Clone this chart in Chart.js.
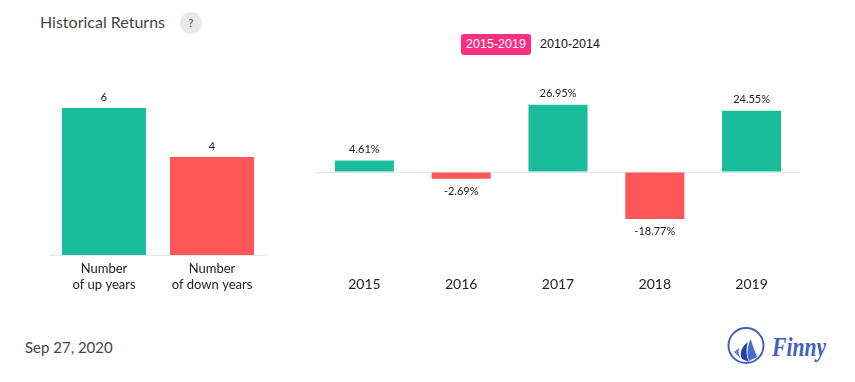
<!DOCTYPE html>
<html>
<head>
<meta charset="utf-8">
<script src="https://cdn.jsdelivr.net/npm/chart.js@4"></script>
<style>
    html, body { margin: 0; padding: 0; background: #fff; }
    body { width: 855px; height: 382px; position: relative; overflow: hidden; font-family: Lato, sans-serif; }
    .abs { position: absolute; white-space: nowrap; }
    #title { left: 40px; top: 12px; font-size: 16px; line-height: 20px; color: #444; }
    #help { left: 180px; top: 12px; width: 22px; height: 22px; line-height: 22px; border-radius: 50%; background: #e9e9e9; color: #555; font-size: 12px; text-align: center; }
    .tab { font-family: "Liberation Sans", sans-serif; font-size: 12.5px; line-height: 21px; height: 21px; top: 34px; border-radius: 3px; text-align: center; }
    #tabOn { left: 461px; width: 70px; background: #f92f82; color: #fff; }
    #tabOff { left: 535px; width: 70px; color: #111; }
    #date { left: 25px; top: 337px; font-size: 15px; line-height: 20px; color: #444; }
    #brand { left: 772px; top: 331px; font-family: "Liberation Serif", serif; font-style: italic; font-weight: bold; font-size: 27px; line-height: 32px; color: #3f61c4; transform: scaleX(0.8); transform-origin: left center; }
    canvas { position: absolute; }
    #countWrap { position: absolute; left: 50px; top: 59px; width: 216px; height: 246px; }
    #returnWrap { position: absolute; left: 316px; top: 72px; width: 484px; height: 240px; }
</style>
</head>
<body>
<div class="abs" id="title">Historical Returns</div>
<div class="abs" id="help">?</div>
<div class="abs tab" id="tabOn">2015-2019</div>
<div class="abs tab" id="tabOff">2010-2014</div>
<div id="countWrap"><canvas id="countChart"></canvas></div>
<div id="returnWrap"><canvas id="returnChart"></canvas></div>
<div class="abs" id="date">Sep 27, 2020</div>
<svg class="abs" style="left:726px;top:326px" width="40" height="40" viewBox="0 0 40 40">
    <circle cx="20" cy="19.5" r="17.5" fill="none" stroke="#3f61c4" stroke-width="2"/>
    <path d="M8 26 L13 22 C12 26 13 30 15 33 Z" fill="#5d7ed6"/>
    <path d="M16 33 C13 27 16 20 22 16 C20 22 20 30 23 36 Z" fill="#23429f"/>
    <path d="M23 35 C20 27 22 19 24.5 13 C27 20 29 26 31 31 Z" fill="#4a6cd0"/>
</svg>
<div class="abs" id="brand">Finny</div>
<script>
const countLabels = [['Number', 'of up years'], ['Number', 'of down years']];
const countValues = [6, 4];
const returnYears = ['2015', '2016', '2017', '2018', '2019'];
const returnValues = [4.61, -2.69, 26.95, -18.77, 24.55];

const green = '#1abc9c';
const red = '#ff5757';
const lineColor = '#e6e6e6';

// puts the value above or below each bar
const valueLabels = {
    id: 'valueLabels',
    afterDatasetsDraw(chart, args, opts) {
        const ctx = chart.ctx;
        const values = chart.data.datasets[0].data;
        ctx.save();
        ctx.font = '11px Lato';
        ctx.fillStyle = '#222';
        ctx.textAlign = 'center';
        ctx.textBaseline = 'middle';
        chart.getDatasetMeta(0).data.forEach((bar, i) => {
            const y = values[i] < 0 ? bar.y + 13 : bar.y - 11;
            ctx.fillText(opts.format(values[i]), bar.x, y);
        });
        ctx.restore();
    }
};

new Chart(document.getElementById('countChart'), {
    type: 'bar',
    data: {
        labels: countLabels,
        datasets: [{ data: countValues, backgroundColor: [green, red], barPercentage: 1, categoryPercentage: 0.778 }]
    },
    plugins: [valueLabels],
    options: {
        responsive: true,
        maintainAspectRatio: false,
        animation: false,
        layout: { padding: 0 },
        plugins: {
            legend: { display: false },
            tooltip: { enabled: false },
            valueLabels: { format: v => String(v) }
        },
        scales: {
            x: {
                grid: { display: false, drawTicks: false },
                border: { color: lineColor },
                ticks: { color: '#222', font: { family: 'Lato', size: 13 }, padding: 6, maxRotation: 0, autoSkip: false },
                afterFit: s => { s.height = 50; }
            },
            y: { display: false, min: 0, max: 8 }
        }
    }
});

new Chart(document.getElementById('returnChart'), {
    type: 'bar',
    data: {
        labels: returnYears,
        datasets: [{
            data: returnValues,
            backgroundColor: returnValues.map(v => v < 0 ? red : green),
            barPercentage: 1,
            categoryPercentage: 0.61
        }]
    },
    plugins: [valueLabels],
    options: {
        responsive: true,
        maintainAspectRatio: false,
        animation: false,
        layout: { padding: 0 },
        plugins: {
            legend: { display: false },
            tooltip: { enabled: false },
            valueLabels: { format: v => v + '%' }
        },
        scales: {
            x: {
                grid: { display: false, drawTicks: false },
                border: { display: false },
                ticks: { color: '#222', font: { family: 'Lato', size: 14 }, padding: 4, maxRotation: 0, autoSkip: false },
                afterFit: s => { s.height = 40; }
            },
            y: {
                min: -40,
                max: 40,
                grid: { drawTicks: false, color: c => c.tick.value === 0 ? lineColor : 'transparent' },
                border: { display: false },
                ticks: { display: false, stepSize: 10 },
                afterFit: s => { s.width = 0; }
            }
        }
    }
});
</script>
</body>
</html>
